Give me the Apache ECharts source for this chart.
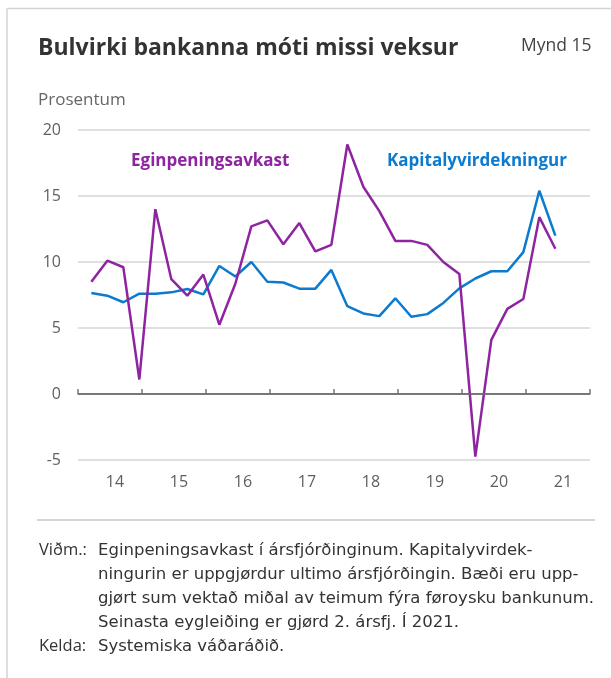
<!DOCTYPE html>
<html>
<head>
<meta charset="utf-8">
<script src="https://cdn.jsdelivr.net/npm/echarts@6/dist/echarts.min.js"></script>
<style>
  html, body { margin: 0; padding: 0; background: #fff; }
  #chart { width: 611px; height: 678px; }
</style>
</head>
<body>
<div id="chart"></div>
<script>
const FONT = '"Open Sans", "Noto Sans", sans-serif';
const NOTE_FONT = '"DejaVu Sans", "Open Sans", sans-serif';

// quarters shown, 2014 Q1 - 2021 Q2
const quarters = [
  '2014K1', '2014K2', '2014K3', '2014K4',
  '2015K1', '2015K2', '2015K3', '2015K4',
  '2016K1', '2016K2', '2016K3', '2016K4',
  '2017K1', '2017K2', '2017K3', '2017K4',
  '2018K1', '2018K2', '2018K3', '2018K4',
  '2019K1', '2019K2', '2019K3', '2019K4',
  '2020K1', '2020K2', '2020K3', '2020K4',
  '2021K1', '2021K2'
];
const yearLabels = ['14', '15', '16', '17', '18', '19', '20', '21'];

const eginpeningsavkast = [
  8.5, 10.1, 9.6, 1.1, 14.0, 8.7, 7.45, 9.05,
  5.25, 8.35, 12.7, 13.15, 11.35, 12.95, 10.8, 11.3,
  18.9, 15.7, 13.85, 11.6, 11.6, 11.3, 10.0, 9.1,
  -4.75, 4.1, 6.45, 7.2, 13.4, 11.0
];
const kapitalyvirdekningur = [
  7.65, 7.45, 6.95, 7.6, 7.6, 7.7, 7.95, 7.55,
  9.7, 8.9, 10.0, 8.5, 8.45, 7.98, 7.98, 9.4,
  6.65, 6.1, 5.9, 7.25, 5.85, 6.05, 6.9, 8.0,
  8.75, 9.3, 9.3, 10.75, 15.4, 12.0
];

const notes = [
  'Eginpeningsavkast í ársfjórðinginum. Kapitalyvirdek-',
  'ningurin er uppgjørdur ultimo ársfjórðingin. Bæði eru upp-',
  'gjørt sum vektað miðal av teimum fýra føroysku bankunum.',
  'Seinasta eygleiðing er gjørd 2. ársfj. Í 2021.'
];

// month position (from Jan 2014) of the middle of a quarter's last month
const monthPos = (q) => {
  const year = parseInt(q.slice(0, 4));
  const k = parseInt(q.slice(5));
  return (year - 2014) * 12 + k * 3 - 0.5;
};
const toPairs = (values) => values.map((v, i) => [monthPos(quarters[i]), v]);

const PURPLE = '#8E24A0';
const BLUE = '#0B7ACF';

const text = (left, y, str, opts = {}) => ({
  type: 'text',
  left: left,
  y: y,
  style: Object.assign({
    text: str,
    fill: '#333',
    font: '16.5px ' + NOTE_FONT,
    verticalAlign: 'middle'
  }, opts)
});
const LABEL_STYLE = { font: '16.5px ' + FONT, fill: '#333' };

const chart = echarts.init(document.getElementById('chart'), null, { renderer: 'canvas' });

chart.setOption({
  animation: false,
  backgroundColor: '#fff',
  grid: { left: 78, right: 21, top: 130, bottom: 218 },
  xAxis: [
    {
      type: 'value',
      min: 0,
      max: 96,
      interval: 12,
      axisLine: { show: true, lineStyle: { color: '#7a7a7a', width: 1.5 } },
      axisTick: { show: true, inside: true, length: 5, lineStyle: { color: '#7a7a7a', width: 1.5 } },
      axisLabel: { show: false },
      splitLine: { show: false }
    },
    {
      type: 'category',
      position: 'bottom',
      data: yearLabels,
      boundaryGap: true,
      axisLine: { show: false },
      axisTick: { show: false },
      axisLabel: {
        color: '#5f5f5f',
        fontSize: 16,
        fontFamily: FONT,
        margin: 14,
        padding: [0, 0, 0, 10]
      }
    }
  ],
  yAxis: {
    type: 'value',
    min: -5,
    max: 20,
    interval: 5,
    axisLine: { show: false },
    axisTick: { show: false },
    axisLabel: { color: '#5f5f5f', fontSize: 16, fontFamily: FONT, margin: 17 },
    splitLine: { lineStyle: { color: '#d6d6d6', width: 1.5 } }
  },
  series: [
    {
      name: 'Eginpeningsavkast',
      type: 'line',
      data: toPairs(eginpeningsavkast),
      showSymbol: false,
      lineStyle: { color: PURPLE, width: 2.5 },
      z: 3,
      markLine: {
        silent: true,
        symbol: 'none',
        label: { show: false },
        lineStyle: { color: '#6e6e6e', width: 1.5, type: 'solid' },
        data: [{ yAxis: 0 }]
      }
    },
    {
      name: 'Kapitalyvirdekningur',
      type: 'line',
      data: toPairs(kapitalyvirdekningur),
      showSymbol: false,
      lineStyle: { color: BLUE, width: 2.5 },
      z: 2
    }
  ],
  graphic: [
    // frame
    { type: 'line', shape: { x1: 7, y1: 8.5, x2: 611, y2: 8.5 }, style: { stroke: '#d3d3d3', lineWidth: 1.5 } },
    { type: 'line', shape: { x1: 7, y1: 8.5, x2: 7, y2: 678 }, style: { stroke: '#d3d3d3', lineWidth: 1.5 } },
    // separator under the chart
    { type: 'line', shape: { x1: 37, y1: 520, x2: 595, y2: 520 }, style: { stroke: '#d6d6d6', lineWidth: 2 } },
    text(38, 48, 'Bulvirki bankanna móti missi veksur', { font: 'bold 23px ' + FONT, fill: '#333' }),
    text(521, 46, 'Mynd 15', { font: '17.5px ' + FONT, fill: '#444' }),
    text(38, 100, 'Prosentum', { font: '17px ' + FONT, fill: '#666' }),
    text(131, 161, 'Eginpeningsavkast', { font: 'bold 17px ' + FONT, fill: PURPLE }),
    text(387, 161, 'Kapitalyvirdekningur', { font: 'bold 17px ' + FONT, fill: BLUE }),
    text(39, 550, 'Viðm.:', LABEL_STYLE),
    text(98, 551, notes[0]),
    text(98, 575, notes[1]),
    text(98, 599, notes[2]),
    text(98, 623, notes[3]),
    text(39, 646, 'Kelda:', LABEL_STYLE),
    text(98, 647, 'Systemiska váðaráðið.')
  ]
});
</script>
</body>
</html>
